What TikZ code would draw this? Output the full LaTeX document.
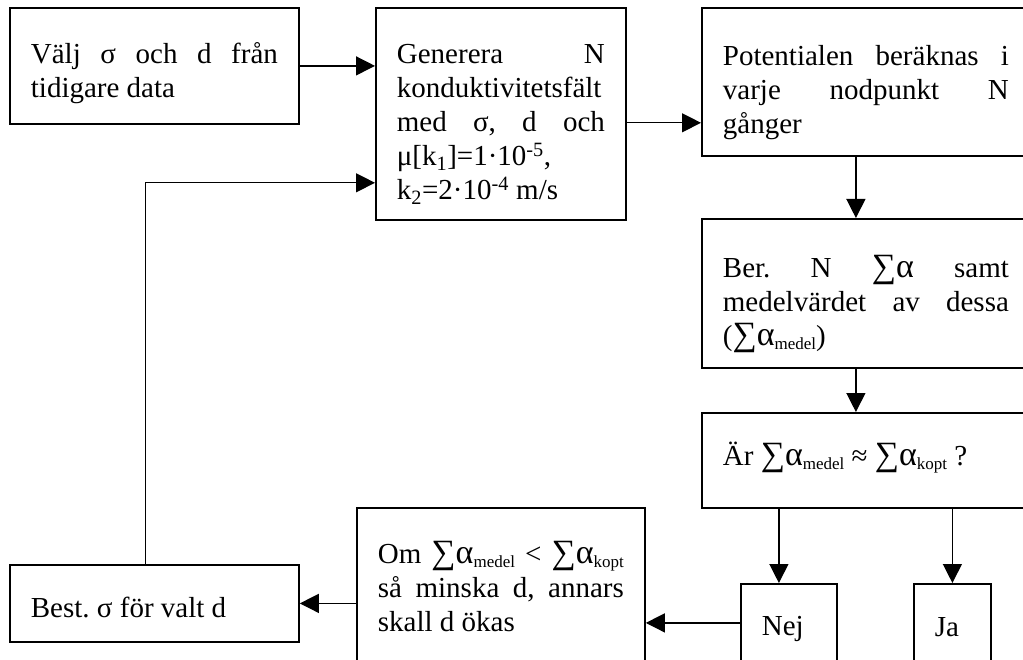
\documentclass[tikz,border=0pt]{standalone}
\usepackage{fontspec}
\setmainfont{Liberation Serif}
\usetikzlibrary{arrows.meta, calc}
\newcommand{\boxfont}{\fontsize{29}{34}\selectfont\frenchspacing}
\newcommand{\sumal}{{\fontsize{34}{34}\selectfont ∑α}}
\newcommand{\subtxt}[1]{\raisebox{-4pt}{\fontsize{17}{17}\selectfont #1}}
\newcommand{\suptxt}[1]{\textsuperscript{#1}}

\begin{document}
\begin{tikzpicture}[x=1pt, y=-1pt,
    flowbox/.style={draw, line width=1.8pt, anchor=north west, inner xsep=21pt,
      inner ysep=0pt, align=justify, font=\boxfont, text height=56pt},
    flowarrow/.style={line width=1.3pt, -{Triangle[length=19pt, width=19pt]}}]
      % page frame (the right and bottom boxes run off the page)
      \useasboundingbox (0,0) rectangle (1023,660);
      \clip (0,0) rectangle (1023,660);
      % Top row
      \node[flowbox, text width=247pt, text depth=60pt] (valj) at (9,7)
        {Välj σ och d från\linebreak tidigare data};
      \node[flowbox, text width=208pt, text depth=156pt] (gen) at (375,7)
        {Generera N\linebreak konduktivitetsfält\\ med σ, d och\linebreak
         μ[k\textsubscript{1}]=1·10\suptxt{-5},\\ k\textsubscript{2}=2·10\suptxt{-4} m/s};
      \node[flowbox, text width=286pt, text height=58pt, text depth=90pt] (pot) at (701,7)
        {Potentialen beräknas i\linebreak varje nodpunkt N\linebreak gånger};
      % Right column
      \node[flowbox, text width=286pt, text height=59pt, text depth=90pt] (ber) at (701,218)
        {Ber. N \sumal{} samt\linebreak medelvärdet av dessa\linebreak (\sumal\subtxt{medel})};
      \node[flowbox, text width=286pt, text height=53pt, text depth=42pt] (ar) at (701,412)
        {Är \sumal\subtxt{medel} ≈ \sumal\subtxt{kopt} ?};
      \node[flowbox, text width=54pt, text height=52pt, text depth=26pt] (nej) at (740,583) {Nej};
      \node[flowbox, text width=35pt, text height=53pt, text depth=25pt] (ja) at (913,583) {Ja};
      % Bottom row
      \node[flowbox, text width=246pt, text height=56pt, text depth=99pt] (om) at (356,507)
        {Om \sumal\subtxt{medel} < \sumal\subtxt{kopt}\linebreak så minska d, annars\linebreak skall d ökas};
      \node[flowbox, text width=247pt, text height=53pt, text depth=24pt] (best) at (9,564)
        {Best. σ för valt d};
      % Arrow ends
      \coordinate (potin) at ([yshift=34pt]pot.south west);
      \coordinate (genin) at ([yshift=38pt]gen.south west);
      \coordinate (nejin) at ([xshift=-10pt]nej.north);
      % Connectors
      \draw[flowarrow] (valj.east) -- (valj.east -| gen.west);
      \draw[flowarrow] (potin -| gen.east) -- (potin);
      \draw[flowarrow] ([xshift=-10pt]pot.south) -- ([xshift=-10pt]ber.north);
      \draw[flowarrow] ([xshift=-10pt]ber.south) -- ([xshift=-10pt]ar.north);
      \draw[flowarrow] (nejin |- ar.south) -- (nejin);
      \draw[flowarrow] (ja.north |- ar.south) -- (ja.north);
      \draw[flowarrow] (nej.west) -- (nej.west -| om.east);
      \draw[flowarrow] (best.east -| om.west) -- (best.east);
      \draw[flowarrow] ([xshift=-9pt]best.north) |- (genin);
    \end{tikzpicture}
\end{document}
